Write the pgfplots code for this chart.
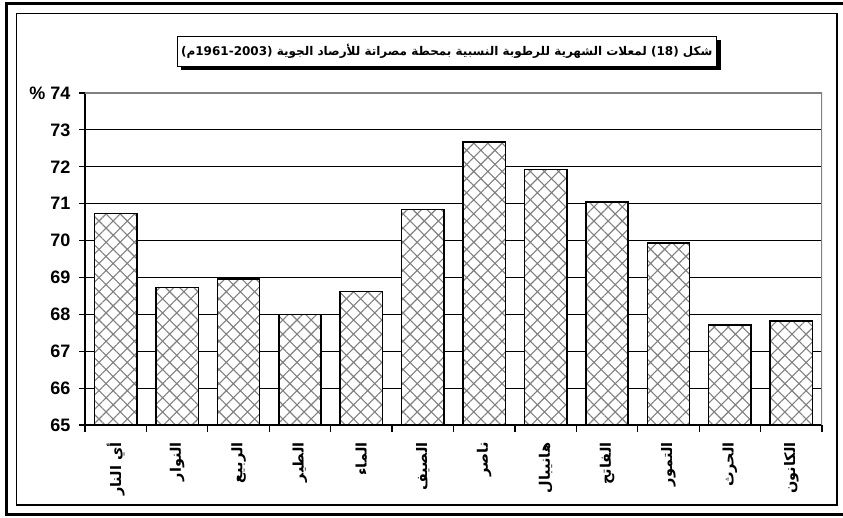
\documentclass[border=0pt]{standalone}
\usepackage{pgfplots}
\pgfplotsset{compat=1.18}
\usepackage{fontspec}
\setmainfont{Liberation Sans}
\newfontfamily\arabicfont[Script=Arabic]{DejaVu Sans}
\TeXXeTstate=1
\usetikzlibrary{patterns.meta,shadows}
\begin{document}
\begin{tikzpicture}[x=1pt,y=1pt]
\useasboundingbox (0,0) rectangle (843,518);
\draw[line width=3pt] (843,514) -- (6.5,514) -- (6.5,3) -- (843,3);
\draw[line width=1.5pt] (16.5,13) rectangle (837,504.5);
\begin{axis}[
  at={(85pt,93pt)}, anchor=south west,
  width=737pt, height=332pt, scale only axis,
  xmin=-0.5, xmax=11.5, ymin=65, ymax=74,
  axis x line*=bottom, axis y line*=left,
  axis line style={-, line width=1.5pt, black},
  ytick={65,66,...,74},
  yticklabels={65,66,67,68,69,70,71,72,73,\% 74},
  ymajorgrids, grid style={black, line width=1.2pt},
  xtick={0,...,11},
  xticklabels={
    {\beginR أي النار\endR},
    {\beginR النوار\endR},
    {\beginR الربيع\endR},
    {\beginR الطير\endR},
    {\beginR الماء\endR},
    {\beginR الصيف\endR},
    {\beginR ناصر\endR},
    {\beginR هانيبال\endR},
    {\beginR الفاتح\endR},
    {\beginR التمور\endR},
    {\beginR الحرث\endR},
    {\beginR الكانون\endR}},
  minor xtick={-0.5,0.5,...,11.5},
  tick align=outside,
  major x tick style={draw=none},
  minor tick length=7pt,
  major tick length=6pt,
  tick style={black, line width=1.2pt},
  yticklabel style={font=\bfseries\fontsize{18}{21}\selectfont, anchor=east, xshift=-5pt},
  xticklabel shift=8pt,
  xticklabel style={font=\arabicfont\bfseries\fontsize{14.5}{17}\selectfont, rotate=90, anchor=east},
  ybar, bar width=0.69, bar shift=0pt,
  clip=true,
]
\addplot[fill=white, draw=black, line width=1.5pt,
  postaction={pattern={Hatch[angle=45,distance=10pt,line width=1.1pt]}, pattern color=gray}]
coordinates {(0,70.74) (1,68.73) (2,68.96) (3,67.99) (4,68.62) (5,70.84) (6,72.67) (7,71.93) (8,71.05) (9,69.93) (10,67.71) (11,67.82)};
\draw[gray, line width=1.2pt] (rel axis cs:0,1) -- (rel axis cs:1,1) -- (rel axis cs:1,0);
\end{axis}
\node[draw, line width=1pt, fill=white, anchor=north east, minimum height=30pt, inner xsep=4pt,
  drop shadow={shadow xshift=4pt, shadow yshift=-4pt, fill=black, opacity=1}]
  at (717,482) {\arabicfont\bfseries\fontsize{12}{14}\selectfont\beginR شكل (18) لمعلات الشهرية للرطوبة النسبية بمحطة مصراتة للأرصاد الجوية (1961-2003م)\endR};
\end{tikzpicture}
\end{document}
